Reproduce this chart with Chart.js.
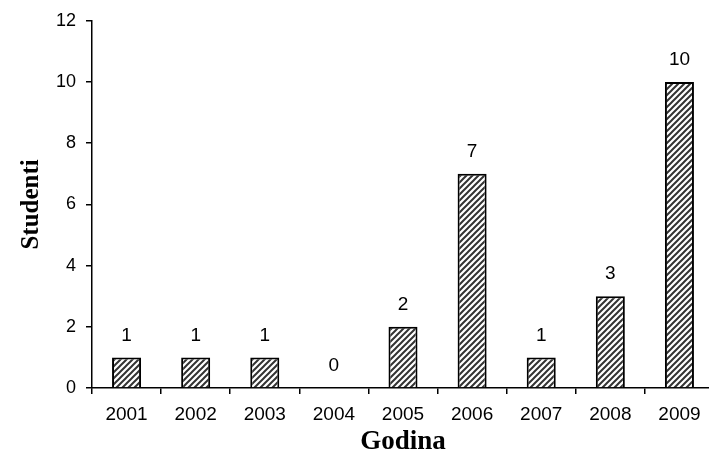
<!DOCTYPE html>
<html>
<head>
<meta charset="utf-8">
<script src="https://cdn.jsdelivr.net/npm/chart.js@4/dist/chart.umd.min.js"></script>
<style>
  html, body { margin: 0; padding: 0; background: #fff; overflow: hidden; }
  #wrap { width: 714px; height: 458px; }
</style>
</head>
<body>
<div id="wrap"><canvas id="chart"></canvas></div>
<script>
// data
const years = ['2001', '2002', '2003', '2004', '2005', '2006', '2007', '2008', '2009'];
const students = [1, 1, 1, 0, 2, 7, 1, 3, 10];
const yTicks = [0, 2, 4, 6, 8, 10, 12];

// diagonal hatch fill, like the old Excel pattern
function makeHatch() {
  const c = document.createElement('canvas');
  c.width = 6; c.height = 6;
  const g = c.getContext('2d');
  g.fillStyle = '#fff';
  g.fillRect(0, 0, 6, 6);
  g.strokeStyle = '#333';
  g.lineWidth = 2;
  g.beginPath();
  g.moveTo(-1, 7); g.lineTo(7, -1);
  g.moveTo(-4, 4); g.lineTo(4, -4);
  g.moveTo(2, 10); g.lineTo(10, 2);
  g.stroke();
  return g.createPattern(c, 'repeat');
}

// value labels above the bars
const valueLabels = {
  id: 'valueLabels',
  afterDatasetsDraw(chart) {
    const ctx = chart.ctx;
    const meta = chart.getDatasetMeta(0);
    ctx.save();
    ctx.font = '19px "Liberation Sans", Arial, sans-serif';
    ctx.fillStyle = '#000';
    ctx.textAlign = 'center';
    ctx.textBaseline = 'middle';
    meta.data.forEach((bar, i) => {
      ctx.fillText(String(students[i]), bar.x, bar.y - 22);
    });
    ctx.restore();
  }
};

new Chart(document.getElementById('chart'), {
  type: 'bar',
  data: {
    labels: years,
    datasets: [{
      data: students,
      backgroundColor: makeHatch(),
      borderColor: '#000',
      borderWidth: 2,
      borderSkipped: 'bottom',
      categoryPercentage: 1,
      barPercentage: 0.42
    }]
  },
  options: {
    responsive: true,
    maintainAspectRatio: false,
    animation: false,
    layout: { padding: { top: 9, right: 0, bottom: 0, left: 0 } },
    plugins: {
      legend: { display: false },
      tooltip: { enabled: false }
    },
    scales: {
      x: {
        afterFit: (s) => { s.height = 70; },
        grid: { drawOnChartArea: false, drawTicks: true, tickLength: 6, color: '#000', lineWidth: 1.5, offset: true },
        border: { color: '#000', width: 1.5 },
        ticks: {
          color: '#000',
          padding: 9,
          font: { family: '"Liberation Sans", Arial, sans-serif', size: 19 }
        },
        title: {
          display: true,
          text: 'Godina',
          color: '#000',
          padding: { top: 0, bottom: 0 },
          font: { family: '"Liberation Serif", "Times New Roman", serif', size: 27, weight: 'bold' }
        }
      },
      y: {
        min: 0,
        max: 12,
        afterFit: (s) => { s.width = 92; },
        afterBuildTicks: (s) => { s.ticks = yTicks.map(v => ({ value: v })); },
        grid: { drawOnChartArea: false, drawTicks: true, tickLength: 6, color: '#000', lineWidth: 1.5 },
        border: { color: '#000', width: 1.5 },
        ticks: {
          color: '#000',
          padding: 10,
          font: { family: '"Liberation Sans", Arial, sans-serif', size: 18 }
        },
        title: {
          display: true,
          text: 'Studenti',
          color: '#000',
          padding: { top: 17, bottom: 0 },
          font: { family: '"Liberation Serif", "Times New Roman", serif', size: 25, weight: 'bold' }
        }
      }
    }
  },
  plugins: [valueLabels]
});
</script>
</body>
</html>
